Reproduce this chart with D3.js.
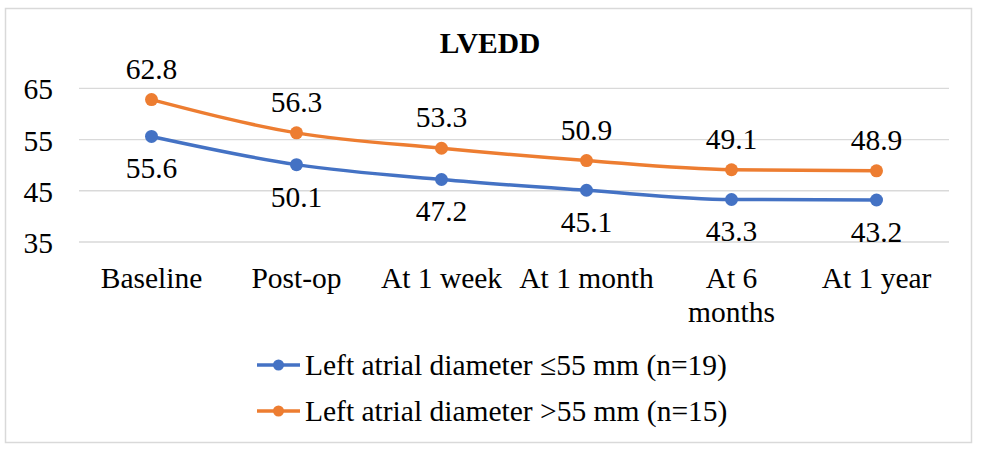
<!DOCTYPE html>
<html><head><meta charset="utf-8">
<script src="https://cdn.jsdelivr.net/npm/d3@7"></script>
<style>
body{margin:0;background:#fff;} svg{display:block;}
svg text{font-family:"Liberation Serif","Times New Roman",Times,"DejaVu Serif",serif;fill:#000;}
</style>
</head><body>
<svg id="c" width="981" height="453"></svg>
<script>
const categories = ["Baseline","Post-op","At 1 week","At 1 month","At 6 months","At 1 year"];
const seriesNames = ["Left atrial diameter \u226455 mm (n=19)","Left atrial diameter >55 mm (n=15)"];
const blueValues = [55.6,50.1,47.2,45.1,43.3,43.2];
const orangeValues = [62.8,56.3,53.3,50.9,49.1,48.9];
const yTicks = [35,45,55,65];
const colors = ["#4472C4","#ED7D31"];

const svg = d3.select("#c");
const FS = 29.5;
svg.append("rect").attr("x",5.5).attr("y",8.5).attr("width",966).attr("height",434)
  .attr("fill","#fff").attr("stroke","#d9d9d9").attr("stroke-width",1.5);

svg.append("text").attr("x",490).attr("y",53).attr("text-anchor","middle")
  .attr("font-weight","bold").attr("font-size",FS).text("LVEDD");

const x = d3.scaleBand().domain(categories).range([79,949]);
const y = d3.scaleLinear().domain([35,65]).range([242,88.3]);

const g = svg.append("g");
g.selectAll("line.grid").data(yTicks).enter().append("line")
  .attr("x1",79).attr("x2",949).attr("y1",d=>y(d)).attr("y2",d=>y(d))
  .attr("stroke","#d9d9d9").attr("stroke-width",1.3);

const yAxis = d3.axisLeft(y).tickValues(yTicks).tickSize(0).tickPadding(0);
const ya = svg.append("g").attr("transform","translate(53,0)").call(yAxis);
ya.attr("font-family",null).attr("font-size",null);
ya.select(".domain").remove();
ya.selectAll("text").attr("font-size",FS).attr("dy","0.36em");

const xAxis = d3.axisBottom(x).tickSize(0).tickPadding(0);
const xa = svg.append("g").attr("transform","translate(0,288)").call(xAxis);
xa.attr("font-family",null).attr("font-size",null);
xa.select(".domain").remove();
xa.selectAll("text").attr("font-size",FS).attr("y",0)
  .each(function(d){
    const t = d3.select(this);
    if(d==="At 6 months"){
      t.text(null);
      t.append("tspan").attr("x",0).attr("dy",0).text("At 6");
      t.append("tspan").attr("x",0).attr("dy",34).text("months");
    } else t.attr("dy",0);
  });

const series = [blueValues, orangeValues];
const cx = i => x(categories[i]) + x.bandwidth()/2;
const line = d3.line().x((d,i)=>cx(i)).y(d=>y(d)).curve(d3.curveMonotoneX);
series.forEach((vals,si)=>{
  g.append("path").datum(vals).attr("d",line).attr("fill","none")
    .attr("stroke",colors[si]).attr("stroke-width",3.5).attr("stroke-linecap","round");
  g.selectAll("circle.s"+si).data(vals).enter().append("circle")
    .attr("cx",(d,i)=>cx(i)).attr("cy",d=>y(d)).attr("r",6.5)
    .attr("fill",colors[si]);
  g.selectAll("text.s"+si).data(vals).enter().append("text")
    .attr("x",(d,i)=>cx(i))
    .attr("y",d=>si===1 ? y(d)-21 : y(d)+42)
    .attr("text-anchor","middle").attr("font-size",FS)
    .text(d=>d.toFixed(1));
});

const leg = svg.append("g");
seriesNames.forEach((n,i)=>{
  const ly = 365 + i*46;
  leg.append("line").attr("x1",257).attr("x2",300).attr("y1",ly).attr("y2",ly)
    .attr("stroke",colors[i]).attr("stroke-width",3.5);
  leg.append("circle").attr("cx",278.5).attr("cy",ly).attr("r",5.5).attr("fill",colors[i]);
  leg.append("text").attr("x",305).attr("y",ly+10)
    .attr("font-size",FS).text(n);
});
</script>
</body></html>
